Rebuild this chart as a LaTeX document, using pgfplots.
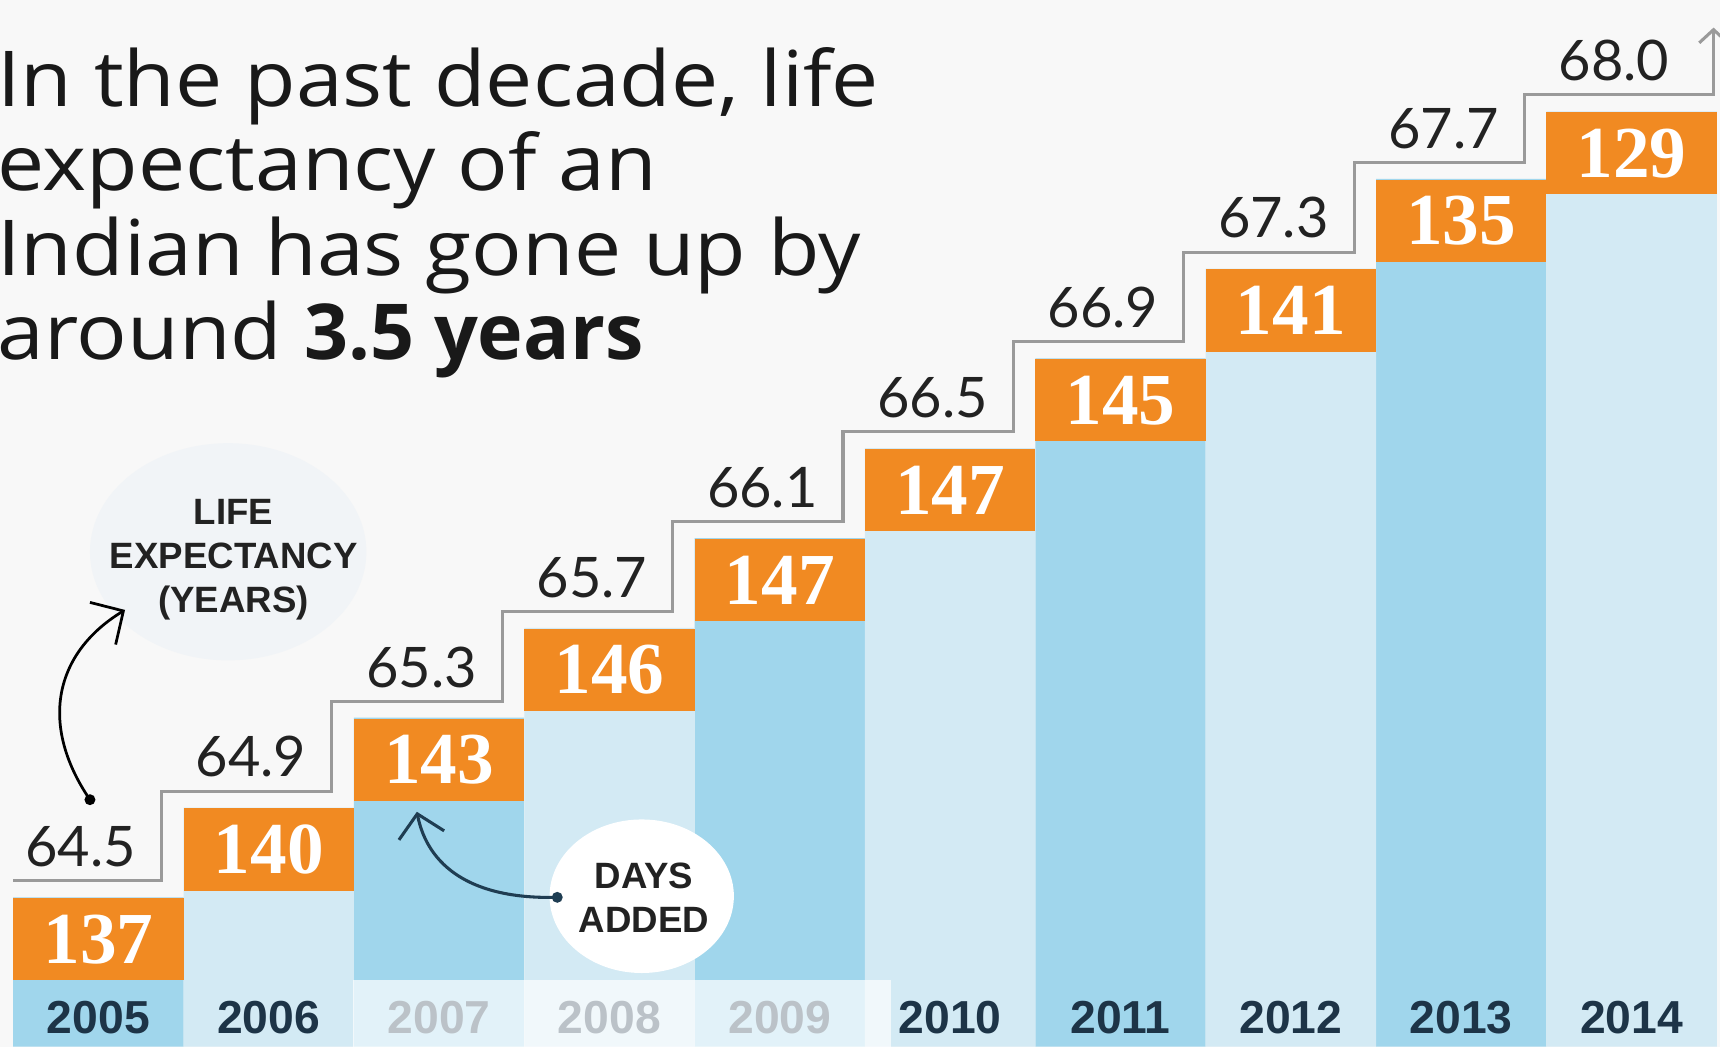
\documentclass[border=0pt]{standalone}
\usepackage{pgfplots}
\pgfplotsset{compat=1.18}
\usetikzlibrary{arrows.meta}
\usepackage{fontspec}
\setmainfont{Liberation Sans}
\newfontfamily\titlefont{Open Sans}[FakeStretch=1.09]
\newfontfamily\titleboldfont{Open Sans}
\newfontfamily\lefont{Lato}
\newfontfamily\numfont{Liberation Serif}
\definecolor{bg}{HTML}{F8F8F8}
\definecolor{bdark}{HTML}{A0D6EC}
\definecolor{blight}{HTML}{D3EAF4}
\definecolor{org}{HTML}{F18A22}
\definecolor{stepgray}{HTML}{9A9A9A}
\definecolor{txt}{HTML}{222222}
\definecolor{yearc}{HTML}{1D3447}
\definecolor{arrowc}{HTML}{1F3D52}
\definecolor{bubble}{HTML}{F1F4F7}
\begin{document}
\begin{tikzpicture}
\useasboundingbox (0,0) rectangle (156.8mm,95.4mm);
\clip (0,0) rectangle (156.8mm,95.4mm);
\fill[bg] (0,0) rectangle (156.8mm,95.4mm);
% faint bubble behind label
\begin{scope}[x=0.1mm, y=-0.1mm, shift={(0,95.4mm)}]
\fill[bubble] (208,503) ellipse [x radius=126, y radius=99];
\end{scope}
\begin{axis}[
  at={(0,0)}, anchor=south west,
  scale only axis, width=156.8mm, height=95.4mm,
  xmin=-0.5773, xmax=9.519, ymin=63.836, ymax=68.496,
  axis line style={draw=none},
  major tick length=0pt,
  ytick=\empty, xtick=\empty,
  bar width=15.53mm,
]
% darker bars (2005, 2007, ...), meta = days added
\addplot[ybar, fill=bdark, draw=none, bar shift=0pt,
  nodes near coords, point meta=explicit,
  /pgf/number format/assume math mode=true,
  nodes near coords style={anchor=north, fill=org, text=white,
    minimum width=15.53mm, minimum height=7.5mm, inner sep=0pt,
    font=\numfont\bfseries\fontsize{19}{19}\selectfont}]
  coordinates {(0,64.5)[137] (2,65.3)[143] (4,66.1)[147] (6,66.9)[145] (8,67.7)[135]};
% lighter bars (2006, 2008, ...)
\addplot[ybar, fill=blight, draw=none, bar shift=0pt,
  nodes near coords, point meta=explicit,
  /pgf/number format/assume math mode=true,
  nodes near coords style={anchor=north, fill=org, text=white,
    minimum width=15.53mm, minimum height=7.5mm, inner sep=0pt,
    font=\numfont\bfseries\fontsize{19}{19}\selectfont}]
  coordinates {(1,64.9)[140] (3,65.7)[146] (5,66.5)[147] (7,67.3)[141] (9,68.0)[129]};
% step line
\addplot[const plot, draw=stepgray, line width=0.28mm, yshift=1.5mm, mark=none,
  -{Straight Barb[length=1.2mm, width=2.6mm]}]
  coordinates {(-0.5,64.5) (0.371,64.9) (1.371,65.3) (2.371,65.7) (3.371,66.1)
    (4.371,66.5) (5.371,66.9) (6.371,67.3) (7.371,67.7) (8.371,68.0) (9.481,68.30)};
% life expectancy labels
\addplot[draw=none, mark=none, nodes near coords, point meta=explicit symbolic,
  nodes near coords style={anchor=base, yshift=2.8mm, xshift=-1.6mm, inner sep=0pt,
    text=txt, font=\lefont\fontsize{14.5}{14.5}\selectfont}]
  coordinates {(0,64.5)[64.5] (1,64.9)[64.9] (2,65.3)[65.3] (3,65.7)[65.7] (4,66.1)[66.1]
    (5,66.5)[66.5] (6,66.9)[66.9] (7,67.3)[67.3] (8,67.7)[67.7] (9,68.0)[68.0]};
% year labels
\addplot[draw=none, mark=none, nodes near coords, point meta=explicit symbolic,
  nodes near coords style={anchor=center, yshift=2.6mm, inner sep=0pt,
    text=yearc, font=\bfseries\fontsize{12}{12}\selectfont}]
  coordinates {(0,63.836)[2005] (1,63.836)[2006] (2,63.836)[2007] (3,63.836)[2008]
    (4,63.836)[2009] (5,63.836)[2010] (6,63.836)[2011] (7,63.836)[2012]
    (8,63.836)[2013] (9,63.836)[2014]};
\end{axis}
\begin{scope}[x=0.1mm, y=-0.1mm, shift={(0,95.4mm)}]
% faded overlay on 2007-2009 labels
\fill[white, opacity=0.7] (322,893) rectangle (812,954);
% title
\begin{scope}[every node/.style={anchor=base west, inner sep=0pt, text=black!90,
    font=\titlefont\fontsize{20}{20}\selectfont}]
\node at (-3,97) {In the past decade, life};
\node at (-3,174) {expectancy of an};
\node at (-3,251) {Indian has gone up by};
\node at (-3,328) {around {\titleboldfont\bfseries 3.5 years}};
\end{scope}
% life expectancy annotation
\node[align=center, text=txt, inner sep=0pt,
  font=\bfseries\fontsize{9.5}{11.4}\selectfont] at (213,510) {LIFE\\EXPECTANCY\\(YEARS)};
\fill[black] (82,729) circle [radius=5];
\draw[black, line width=0.25mm, -{Straight Barb[length=2.2mm, width=4.5mm]}]
  (82,729) .. controls (35,660) and (50,595) .. (114,556);
% days added annotation
\fill[white] (585,817) ellipse [x radius=84, y radius=70];
\node[align=center, text=txt, inner sep=0pt,
  font=\bfseries\fontsize{9.5}{11.4}\selectfont] at (587,818) {DAYS\\ADDED};
\fill[arrowc] (508,818) circle [radius=5];
\draw[arrowc, line width=0.28mm, -{Straight Barb[length=2mm, width=4.2mm]}]
  (508,818) .. controls (430,820) and (390,790) .. (380,740);
\end{scope}
\end{tikzpicture}
\end{document}
